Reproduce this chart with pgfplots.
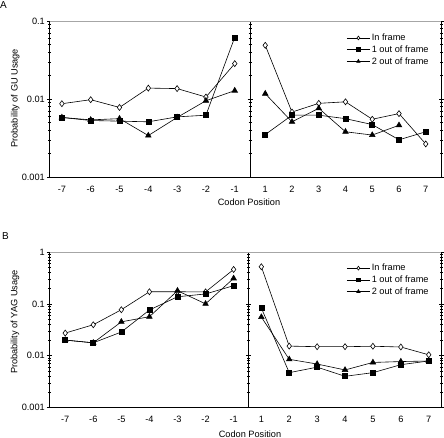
\documentclass[border=0pt]{standalone}
\usepackage{pgfplots}
\pgfplotsset{compat=1.18}
\usepackage{pgfplotstable}
\usepackage{fontspec}
\setmainfont{Liberation Sans}
\newcommand{\fs}{\fontsize{9.2}{11}\selectfont}

\pgfplotstableread{
x inf one two
-7 0.0087 0.0058 0.0058
-6 0.0098 0.0053 0.0054
-5 0.0078 0.0052 0.0056
-4 0.0138 0.0051 0.0034
-3 0.0136 0.0059 0.0058
-2 0.0106 0.0062 0.0095
-1 0.0284 0.0618 0.0128
}\AL
\pgfplotstableread{
x inf one two
1 0.0488 0.0035 0.0117
2 0.0068 0.0062 0.0051
3 0.0088 0.0062 0.0076
4 0.0092 0.0056 0.0038
5 0.0055 0.0047 0.00345
6 0.0065 0.0030 0.0046
7 0.00265 0.0038 nan
}\AR
\pgfplotstableread{
x inf one two
-7 0.0273 0.0200 0.0200
-6 0.0395 0.0177 0.0177
-5 0.0770 0.0286 0.0450
-4 0.171 0.076 0.0564
-3 0.171 0.137 0.179
-2 0.170 0.155 0.100
-1 0.46 0.224 0.31
}\BL
\pgfplotstableread{
x inf one two
1 0.52 0.083 0.0556
2 0.0153 0.0047 0.0085
3 0.0149 0.0060 0.0069
4 0.0149 0.0040 0.0053
5 0.0152 0.0047 0.0074
6 0.0147 0.0067 0.0077
7 0.0104 0.0079 0.0079
}\BR

\tikzset{
  sInf/.style={black, line width=0.6pt, mark=diamond*, mark size=3pt, mark options={fill=white, line width=0.6pt}},
  sOne/.style={black, line width=0.6pt, mark=square*, mark size=2.5pt, mark options={fill=black}},
  sTwo/.style={black, line width=0.6pt, mark=triangle*, mark size=3.2pt, mark options={fill=black}},
}
\pgfplotsset{
  every axis/.append style={
    scale only axis, ymode=log,
    axis line style={line width=0.8pt, black},
    tick align=center,
    major tick length=5pt, minor tick length=3pt,
    tick style={black, line width=0.5pt},
    every major x tick/.append style={draw=none},
    tick label style={font=\fs},
    xticklabel style={yshift=-3pt},
    yticklabel style={inner sep=1pt, xshift=-1pt},
    legend style={draw=none, fill=none, font=\fs, anchor=north west, inner sep=0pt,
      row sep=0pt, column sep=1pt, nodes={inner sep=0.6pt, text height=8pt, text depth=2.5pt}},
    legend cell align=left,
  },
}
\pgfplotsset{
  legend image code/.code={%
    \draw[#1, mark=none] (0pt,0pt) -- (23pt,0pt);
    \draw[#1, mark size=1.9pt, only marks] plot coordinates {(11.5pt,0pt)};},
}

\begin{document}
\begin{tikzpicture}
\path[use as bounding box] (0pt,0pt) rectangle (444pt,-438pt);
% Panel A
\begin{axis}[name=aL, at={(49.5pt,-177pt)}, anchor=south west,
  width=200.5pt, height=156pt, xmin=-7.43, xmax=-0.47,
  ymin=0.001, ymax=0.1, ytick={0.001,0.01,0.1}, yticklabels={0.001,0.01,0.1},
  minor ytick={0.002,0.003,0.004,0.005,0.006,0.007,0.008,0.009,0.02,0.03,0.04,0.05,0.06,0.07,0.08,0.09},
  xtick={-7,-6,-5,-4,-3,-2,-1}, xticklabels={-7,-6,-5,-4,-3,-2,-1}]
\addplot[sInf] table[x=x,y=inf] {\AL};
\addplot[sOne] table[x=x,y=one] {\AL};
\addplot[sTwo] table[x=x,y=two] {\AL};
\end{axis}
\begin{axis}[name=aR, at={(250pt,-177pt)}, anchor=south west,
  width=191pt, height=156pt, xmin=0.43, xmax=7.57,
  ymin=0.001, ymax=0.1, ytick={0.001,0.01,0.1}, yticklabels={},
  minor ytick={0.002,0.003,0.004,0.005,0.006,0.007,0.008,0.009,0.02,0.03,0.04,0.05,0.06,0.07,0.08,0.09},
  xtick={1,2,3,4,5,6,7}, xticklabels={1,2,3,4,5,6,7},
  legend style={at={(0.5047,0.93)}}]
\addplot[sInf] table[x=x,y=inf] {\AR};
\addplot[sOne] table[x=x,y=one] {\AR};
\addplot[sTwo] table[x=x,y=two] {\AR};
\legend{In frame,1 out of frame,2 out of frame}
\end{axis}
\draw[gray!70, line width=0.9pt] (aL.north west) -- (aR.north east);
% Panel B
\begin{axis}[name=bL, at={(49.5pt,-407.5pt)}, anchor=south west,
  width=199pt, height=155.5pt, xmin=-7.56, xmax=-0.47,
  ymin=0.001, ymax=1, ytick={0.001,0.01,0.1,1}, yticklabels={0.001,0.01,0.1,1},
  minor ytick={0.002,0.003,0.004,0.005,0.006,0.007,0.008,0.009,0.02,0.03,0.04,0.05,0.06,0.07,0.08,0.09,0.2,0.3,0.4,0.5,0.6,0.7,0.8,0.9},
  xtick={-7,-6,-5,-4,-3,-2,-1}, xticklabels={-7,-6,-5,-4,-3,-2,-1}]
\addplot[sInf] table[x=x,y=inf] {\BL};
\addplot[sOne] table[x=x,y=one] {\BL};
\addplot[sTwo] table[x=x,y=two] {\BL};
\end{axis}
\begin{axis}[name=bR, at={(248.5pt,-407.5pt)}, anchor=south west,
  width=192.5pt, height=155.5pt, xmin=0.54, xmax=7.44,
  ymin=0.001, ymax=1, ytick={0.001,0.01,0.1,1}, yticklabels={},
  minor ytick={0.002,0.003,0.004,0.005,0.006,0.007,0.008,0.009,0.02,0.03,0.04,0.05,0.06,0.07,0.08,0.09,0.2,0.3,0.4,0.5,0.6,0.7,0.8,0.9},
  xtick={1,2,3,4,5,6,7}, xticklabels={1,2,3,4,5,6,7},
  legend style={at={(0.5086,0.935)}}]
\addplot[sInf] table[x=x,y=inf] {\BR};
\addplot[sOne] table[x=x,y=one] {\BR};
\addplot[sTwo] table[x=x,y=two] {\BR};
\legend{In frame,1 out of frame,2 out of frame}
\end{axis}
\draw[gray!70, line width=0.9pt] (bL.north west) -- (bR.north east);
% labels
\node[anchor=north west, inner sep=0pt, font=\fontsize{10}{12}\selectfont] at (0pt,-1pt) {A};
\node[anchor=north west, inner sep=0pt, font=\fontsize{10}{12}\selectfont] at (2pt,-232pt) {B};
\node[rotate=90, font=\fs] at (15.3pt,-98.3pt) {Probability of GU Usage};
\node[rotate=90, font=\fs] at (15pt,-322pt) {Probability of YAG Usage};
\node[font=\fs] at (249pt,-202.3pt) {Codon Position};
\node[font=\fs] at (250pt,-434pt) {Codon Position};
\end{tikzpicture}
\end{document}
